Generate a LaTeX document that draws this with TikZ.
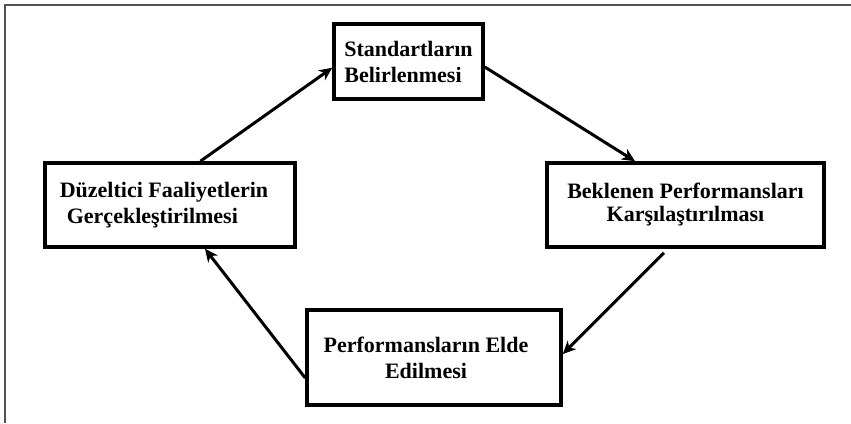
\documentclass[tikz,border=0pt]{standalone}
\usepackage{fontspec}
\setmainfont{Liberation Serif}
\usetikzlibrary{arrows.meta,calc}
\begin{document}
\begin{tikzpicture}[x=1pt,y=-1pt,
  stagebox/.style={draw=black, line width=3.6pt, fill=white, inner sep=0pt,
    font=\fontsize{22}{26}\selectfont\bfseries},
  flow/.style={line width=3pt, -{Stealth[length=13pt,width=12pt,inset=4pt]}},
  frame/.style={draw=black!68, line width=2pt}]
  \useasboundingbox (0,0) rectangle (851,423);
  % outer frame (top and left only)
  \draw[frame] (5,423) -- (5,5) -- (851,5);

  % the four stages of the control cycle
  \node[stagebox, minimum width=149pt, minimum height=75pt, align=left]
    (std) at (408.5,61.5) {Standartların\\Belirlenmesi};
  \node[stagebox, minimum width=277pt, minimum height=84pt, align=center,
    font=\fontsize{22}{23}\selectfont\bfseries]
    (cmp) at (685.5,205) {Beklenen Performansları\\Karşılaştırılması};
  \node[stagebox, minimum width=254pt, minimum height=95pt, align=center]
    (prf) at (434,357.5) {\hspace*{-16pt}Performansların Elde\\\hspace*{-16pt}Edilmesi};
  \node[stagebox, minimum width=250pt, minimum height=84pt, align=left]
    (fix) at (170,205) {\hspace*{-12pt}Düzeltici Faaliyetlerin\\\hspace*{-5pt}Gerçekleştirilmesi};

  % connectors
  \draw[flow] ($(fix.north west)!0.62!(fix.north east)$)
           -- ($(std.north west)!0.58!(std.south west)$);
  \draw[flow] ($(std.north east)!0.57!(std.south east)$)
           -- ($(cmp.north west)!0.32!(cmp.north east)$);
  \draw[flow] ($(cmp.south west)!0.423!(cmp.south east)+(0,4)$)
           -- ($(prf.north east)!0.465!(prf.south east)$);
  \draw[flow] ($(prf.north west)!0.707!(prf.south west)$)
           -- ($(fix.south west)!0.638!(fix.south east)$);
\end{tikzpicture}
\end{document}
